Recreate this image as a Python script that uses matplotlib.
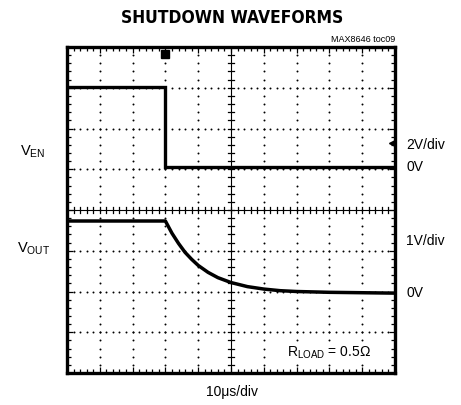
import numpy as np
import matplotlib
matplotlib.use("Agg")
import matplotlib.pyplot as plt
from matplotlib import font_manager

# ---------------- data ----------------
# time in scope divisions (10 us/div), voltages in volts
en_time_div = [0.0, 3.0, 3.0, 10.0]
en_volts = [3.92, 3.92, 0.0, 0.0]          # 2V/div

vout_time_div = [0.0, 3.0, 3.2, 3.4, 3.6, 3.8, 4.0, 4.3, 4.6, 5.0,
                 5.5, 6.0, 6.5, 7.0, 8.0, 9.0, 10.0]
vout_volts = [1.77, 1.77, 1.47, 1.22, 1.00, 0.83, 0.68, 0.51, 0.38, 0.26,
              0.16, 0.10, 0.06, 0.04, 0.02, 0.01, 0.0]   # 1V/div

en_scale = 2.0      # V/div
vout_scale = 1.0    # V/div
en_zero_div = 5.05
vout_zero_div = 1.96

# ---------------- fonts ----------------
names = {f.name for f in font_manager.fontManager.ttflist}
narrow = "Liberation Sans Narrow" if "Liberation Sans Narrow" in names else "Liberation Sans"
has_dvc = any(f.name == "DejaVu Sans" and f.stretch == "condensed"
              for f in font_manager.fontManager.ttflist)
plt.rcParams["font.family"] = [narrow, "DejaVu Sans"]
plt.rcParams["mathtext.fontset"] = "custom"
plt.rcParams["mathtext.rm"] = narrow
plt.rcParams["mathtext.it"] = narrow

W, H = 461, 406
fig = plt.figure(figsize=(W / 100, H / 100), dpi=100)
L, R, T, B = 67, 395, 48, 374
ax = fig.add_axes([L / W, 1 - B / H, (R - L) / W, (B - T) / H])
ax.set_xlim(0, 10)
ax.set_ylim(0, 8)

# dotted grid
minor_x = np.arange(0, 10.01, 0.2)
minor_y = np.arange(0, 8.01, 0.2)
for gx in range(1, 10):
    if gx == 5:
        continue
    ax.scatter(np.full(minor_y.size, gx), minor_y, s=2.0, color="black", lw=0, zorder=1)
for gy in range(1, 8):
    if gy == 4:
        continue
    ax.scatter(minor_x, np.full(minor_x.size, gy), s=2.0, color="black", lw=0, zorder=1)

# center cross with ticks
ax.axvline(5, color="black", lw=0.8, zorder=2)
ax.axhline(4, color="black", lw=0.8, zorder=2)
hx = 3.2 / 32.8
hy = 3.2 / 40.75
for yy in minor_y:
    ax.plot([5 - hx, 5 + hx], [yy, yy], color="black", lw=0.9, zorder=2)
for xx in minor_x:
    ax.plot([xx, xx], [4 - hy, 4 + hy], color="black", lw=0.9, zorder=2)

# frame ticks
ax.set_xticks(np.arange(0, 11, 1))
ax.set_yticks(np.arange(0, 9, 1))
ax.set_xticks(minor_x, minor=True)
ax.set_yticks(minor_y, minor=True)
ax.tick_params(which="both", direction="in", top=True, right=True,
               labelbottom=False, labelleft=False, width=0.9, color="black")
ax.tick_params(which="major", length=4)
ax.tick_params(which="minor", length=3)
for sp in ax.spines.values():
    sp.set_linewidth(2.4)

# traces
ax.plot(en_time_div, en_zero_div + np.array(en_volts) / en_scale,
        color="black", lw=2.4, zorder=3, solid_joinstyle="miter")
ax.plot(vout_time_div, vout_zero_div + np.array(vout_volts) / vout_scale,
        color="black", lw=2.5, zorder=3)

# trigger marker and ground marker
ax.plot([3.0], [7.82], marker="s", ms=5.5, color="black", clip_on=False, zorder=4)
ax.plot([9.9], [5.64], marker="<", ms=4, color="black", clip_on=False, zorder=4)

# ---------------- text ----------------
def ft(x, y, s, **kw):
    fig.text(x / W, 1 - y / H, s, **kw)

if has_dvc:
    ft(232, 18, "SHUTDOWN WAVEFORMS", ha="center", va="center", fontsize=12.5,
       fontweight="bold", family="DejaVu Sans", fontstretch="condensed")
else:
    ft(232, 18, "SHUTDOWN WAVEFORMS", ha="center", va="center", fontsize=12.5,
       fontweight="bold")
ft(395, 40, "MAX8646 toc09", ha="right", va="center", fontsize=6.5)
ft(20, 152, r"V$_{\mathrm{EN}}$", ha="left", va="center", fontsize=10.5)
ft(17, 249, r"V$_{\mathrm{OUT}}$", ha="left", va="center", fontsize=10.5)
ft(406, 145, "2V/div", ha="left", va="center", fontsize=10)
ft(406, 167, "0V", ha="left", va="center", fontsize=10)
ft(406, 241, "1V/div", ha="left", va="center", fontsize=10)
ft(406, 293, "0V", ha="left", va="center", fontsize=10)
ft(287, 353, r"R$_{\mathrm{LOAD}}$ = 0.5Ω", ha="left", va="center", fontsize=10,
   bbox=dict(facecolor="white", edgecolor="none", pad=1.5), zorder=5)
ft(232, 392, "10μs/div", ha="center", va="center", fontsize=10)

fig.savefig("out.png", dpi=100)
